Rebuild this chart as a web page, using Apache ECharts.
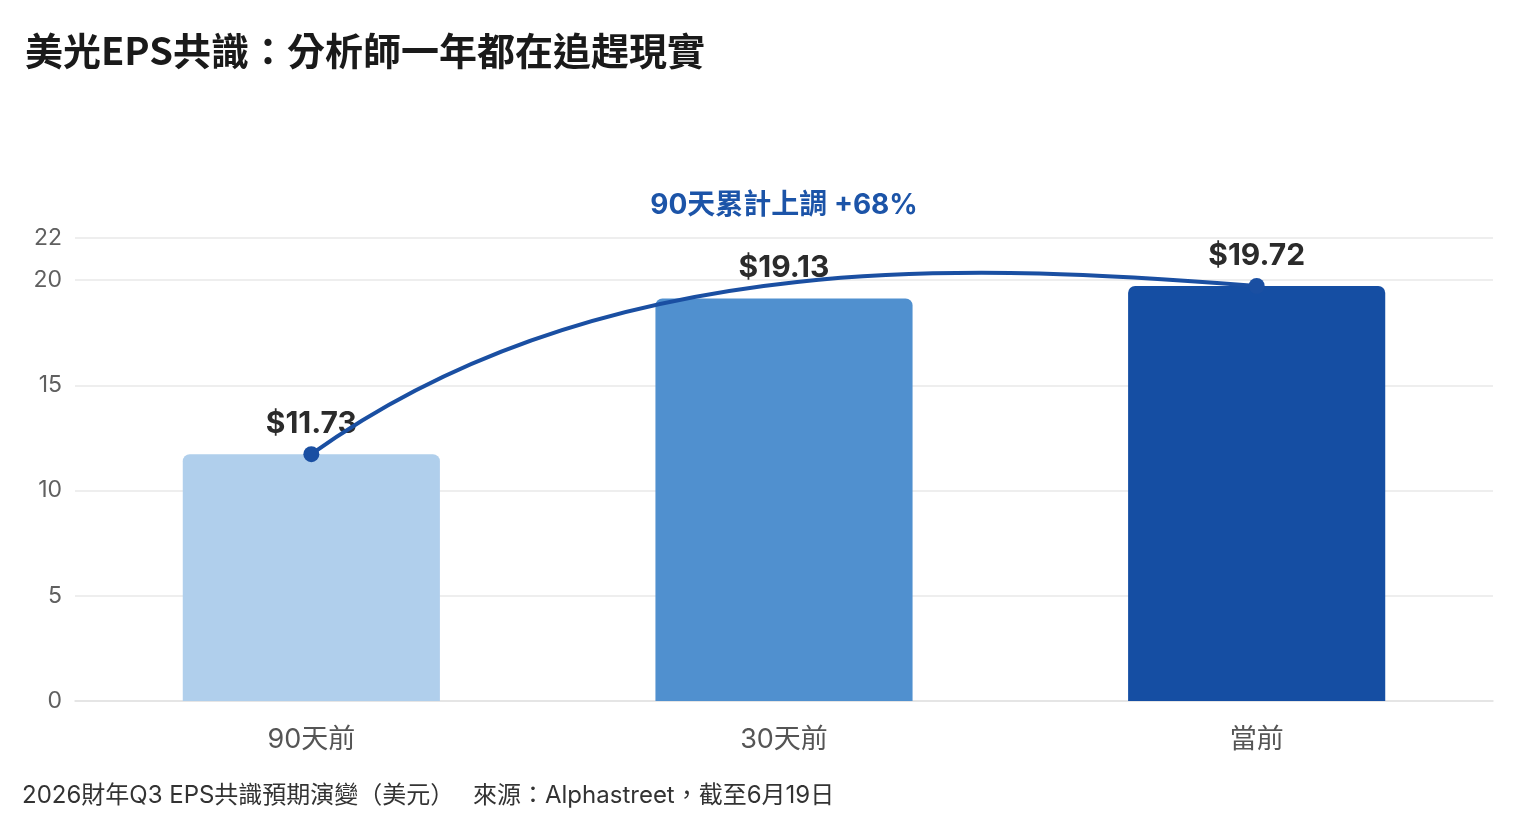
<!DOCTYPE html>
<html>
<head>
<meta charset="utf-8">
<title>美光EPS共識</title>
<script src="https://cdn.jsdelivr.net/npm/echarts@6/dist/echarts.min.js"></script>
<style>
  html, body { margin: 0; padding: 0; background: #fff; }
  #chart { width: 1538px; height: 830px; }
</style>
</head>
<body>
<div id="chart"></div>
<script>
// 資料
var categories = ['90天前', '30天前', '當前']
var epsValues = [11.73, 19.13, 19.72]
// 趨勢曲線兩個控制點的數值
var trendCtrlValues = [21.95, 20.67]
var yMin = 0
var yMax = 22
var yInterval = 5

var titleText = '美光EPS共識：分析師一年都在追趕現實'
var noteText = '90天累計上調 +68%'
var footLeft = '2026財年Q3 EPS共識預期演變（美元）'
var footRight = '來源：Alphastreet，截至6月19日'

var barColors = ['#b0cfec', '#5090cf', '#154ea3']
var lineColor = '#1a4fa2'
var fontLatin = "Inter, 'Noto Sans CJK TC', sans-serif"
var fontCjk = "'Noto Sans CJK TC', sans-serif"

var chart = echarts.init(document.getElementById('chart'))

var last = epsValues.length - 1

chart.setOption({
  backgroundColor: '#ffffff',
  animation: false,
  title: {
    text: titleText,
    left: 20,
    top: 27,
    textStyle: {
      fontFamily: fontCjk,
      fontWeight: 'bold',
      fontSize: 38,
      color: '#1a1a1a'
    }
  },
  grid: {
    left: 75,
    right: 45,
    top: 238,
    bottom: 129
  },
  xAxis: {
    type: 'category',
    data: categories,
    axisLine: { show: true, lineStyle: { color: '#e2e2e2', width: 1.5 } },
    axisTick: { show: false },
    axisLabel: {
      margin: 25,
      fontSize: 27,
      fontFamily: fontLatin,
      color: '#555555'
    }
  },
  yAxis: {
    type: 'value',
    min: yMin,
    max: yMax,
    interval: yInterval,
    axisLine: { show: false },
    axisTick: { show: false },
    splitLine: { lineStyle: { color: '#e8e8e8', width: 1.5 } },
    axisLabel: {
      margin: 13,
      fontSize: 23,
      fontFamily: fontLatin,
      color: '#606060'
    }
  },
  graphic: [
    {
      type: 'text',
      x: 784,
      y: 206,
      style: {
        text: noteText,
        fontFamily: fontLatin,
        fontWeight: 'bold',
        fontSize: 28,
        fill: '#1c54a8',
        textAlign: 'center',
        textVerticalAlign: 'middle'
      }
    },
    {
      type: 'text',
      x: 22,
      y: 796,
      style: {
        text: footLeft,
        fontFamily: fontLatin,
        fontSize: 24,
        fill: '#333333',
        textVerticalAlign: 'middle'
      }
    },
    {
      type: 'text',
      x: 473,
      y: 796,
      style: {
        text: footRight,
        fontFamily: fontLatin,
        fontSize: 24,
        fill: '#333333',
        textVerticalAlign: 'middle'
      }
    }
  ],
  series: [
    {
      type: 'bar',
      barWidth: '54.4%',
      z: 2,
      data: epsValues.map(function(v, i) {
        return {
          value: v,
          itemStyle: { color: barColors[i], borderRadius: [7, 7, 0, 0] }
        }
      }),
      label: {
        show: true,
        position: 'top',
        distance: 15,
        formatter: function(p) {
          return '$' + p.value.toFixed(2)
        },
        fontFamily: fontLatin,
        fontWeight: 'bold',
        fontSize: 30,
        color: '#2b2b2b'
      }
    },
    {
      // 90天前 -> 當前 的趨勢曲線
      type: 'custom',
      z: 10,
      silent: true,
      data: [[0, epsValues[0], last, epsValues[last], trendCtrlValues[0], trendCtrlValues[1]]],
      encode: { x: [0, 2], y: [1, 3] },
      renderItem: function(params, api) {
        var p0 = api.coord([api.value(0), api.value(1)])
        var p1 = api.coord([api.value(2), api.value(3)])
        var c1y = api.coord([api.value(0), api.value(4)])[1]
        var c2y = api.coord([api.value(2), api.value(5)])[1]
        var dx = p1[0] - p0[0]
        return {
          type: 'bezierCurve',
          shape: {
            x1: p0[0], y1: p0[1],
            x2: p1[0], y2: p1[1],
            cpx1: p0[0] + dx * 0.317, cpy1: c1y,
            cpx2: p1[0] - dx * 0.28, cpy2: c2y
          },
          style: { fill: null, stroke: lineColor, lineWidth: 4 }
        }
      }
    },
    {
      type: 'scatter',
      z: 11,
      silent: true,
      symbolSize: 16,
      itemStyle: { color: lineColor, opacity: 1 },
      data: [[0, epsValues[0]], [last, epsValues[last]]]
    }
  ]
})
</script>
</body>
</html>
